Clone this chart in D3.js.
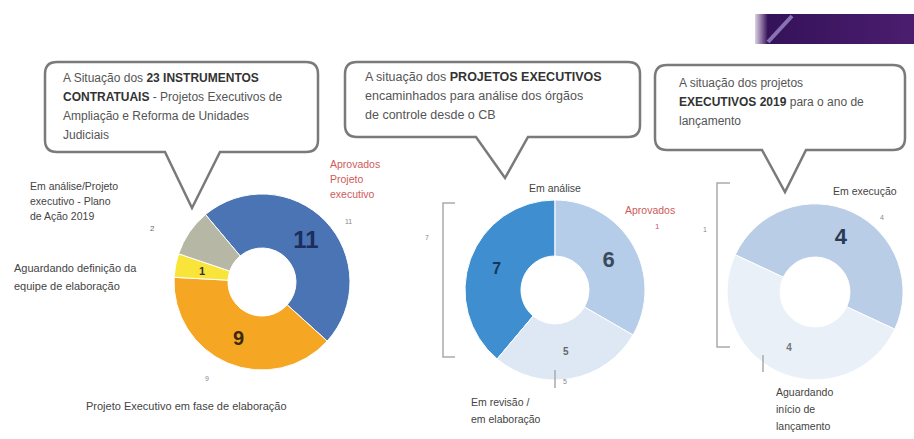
<!DOCTYPE html>
<html>
<head>
<meta charset="utf-8">
<script src="https://cdn.jsdelivr.net/npm/d3@7"></script>
<style>
  html, body { margin: 0; padding: 0; background: #fff; }
  svg { display: block; font-family: "Liberation Sans", Arial, sans-serif; }
</style>
</head>
<body>
<svg id="chart" width="914" height="439"></svg>
<script>
// ---- Data ----
const chart1Categories = ["Projeto executivo aprovado", "Projeto executivo em elaboração", "Aguardando definição", "Em análise / Plano de Ação"];
const chart1Values = [11, 9, 1, 2];
const chart1Colors = ["#4a74b4", "#f5a623", "#f9e43a", "#b7b7a6"];

const chart2Categories = ["Em análise", "Aprovados", "Em revisão / em elaboração"];
const chart2Values = [7, 6, 5];
const chart2Colors = ["#3f8fd0", "#b5cde8", "#dde8f4"];

const chart3Categories = ["Em execução", "Aguardando início de lançamento"];
const chart3Values = [4, 4];
const chart3Colors = ["#b9cde6", "#e9f0f8"];

const svg = d3.select("#chart");
const deg = Math.PI / 180;

// ---- Header band (top right) ----
const band = svg.append("g");
const bandGrad = svg.append("defs").append("linearGradient")
  .attr("id", "bandFade").attr("x1", "0").attr("x2", "1");
bandGrad.append("stop").attr("offset", "0").attr("stop-color", "#4b1d6e").attr("stop-opacity", 0.2);
bandGrad.append("stop").attr("offset", "0.08").attr("stop-color", "#35125a");
bandGrad.append("stop").attr("offset", "1").attr("stop-color", "#4b1d6e");
band.append("rect").attr("x", 755).attr("y", 14).attr("width", 159).attr("height", 30).attr("fill", "url(#bandFade)");
band.append("line").attr("x1", 768).attr("y1", 42).attr("x2", 792).attr("y2", 16)
  .attr("stroke", "#9b8cc8").attr("stroke-width", 4).attr("opacity", 0.8);

// ---- Callout boxes ----
function calloutPath(x, y, w, h, r, b1, b2, tx, ty) {
  const p = d3.path();
  p.moveTo(x + r, y);
  p.lineTo(x + w - r, y);
  p.quadraticCurveTo(x + w, y, x + w, y + r);
  p.lineTo(x + w, y + h - r);
  p.quadraticCurveTo(x + w, y + h, x + w - r, y + h);
  p.lineTo(b2, y + h);
  p.lineTo(tx, ty);
  p.lineTo(b1, y + h);
  p.lineTo(x + r, y + h);
  p.quadraticCurveTo(x, y + h, x, y + h - r);
  p.lineTo(x, y + r);
  p.quadraticCurveTo(x, y, x + r, y);
  p.closePath();
  return p.toString();
}

const boxes = [
  { x: 45, y: 62, w: 273, h: 90, b1: 165, b2: 220, tx: 192, ty: 208, size: 12, tx0: 18,
    lines: [
      [["A Situação dos ", false], ["23 INSTRUMENTOS", true]],
      [["CONTRATUAIS", true], [" - Projetos Executivos de", false]],
      [["Ampliação e Reforma de Unidades", false]],
      [["Judiciais", false]]
    ], ly: 82 },
  { x: 345, y: 62, w: 295, h: 75, b1: 476, b2: 528, tx: 505, ty: 178, size: 12.5, tx0: 20,
    lines: [
      [["A situação dos ", false], ["PROJETOS EXECUTIVOS", true]],
      [["encaminhados para análise dos órgãos", false]],
      [["de controle desde o CB", false]]
    ], ly: 81 },
  { x: 655, y: 65, w: 250, h: 85, b1: 762, b2: 806, tx: 785, ty: 192, size: 12, tx0: 24,
    lines: [
      [["A situação dos projetos", false]],
      [["EXECUTIVOS 2019", true], [" para o ano de", false]],
      [["lançamento", false]]
    ], ly: 87 }
];

boxes.forEach(b => {
  svg.append("path")
    .attr("d", calloutPath(b.x, b.y, b.w, b.h, 12, b.b1, b.b2, b.tx, b.ty))
    .attr("fill", "#fff").attr("stroke", "#7a7a7a").attr("stroke-width", 2.5);
  const t = svg.append("text").attr("font-size", b.size).attr("fill", "#555");
  b.lines.forEach((ln, i) => {
    ln.forEach(([str, bold], j) => {
      const ts = t.append("tspan").text(str)
        .attr("font-weight", bold ? "bold" : null)
        .attr("fill", bold ? "#333" : "#555");
      if (j === 0) ts.attr("x", b.x + b.tx0).attr("y", b.ly + i * 19);
    });
  });
});

// ---- Donuts ----
function donut(cx, cy, rOuter, rInner, values, colors, startDeg) {
  const pie = d3.pie().sort(null)
    .startAngle(startDeg * deg).endAngle(startDeg * deg + 2 * Math.PI);
  const arc = d3.arc().innerRadius(rInner).outerRadius(rOuter);
  const g = svg.append("g").attr("transform", `translate(${cx},${cy})`);
  const arcs = pie(values);
  g.selectAll("path").data(arcs).join("path")
    .attr("d", arc)
    .attr("fill", (d, i) => colors[i])
    .attr("stroke", "#fff").attr("stroke-width", 1);
  return { g, arcs, arc: d3.arc().innerRadius((rInner + rOuter) / 2).outerRadius((rInner + rOuter) / 2) };
}

function valueLabel(d, idx, size, color) {
  const a = d.arcs[idx];
  const [x, y] = d.arc.centroid(a);
  d.g.append("text").attr("x", x).attr("y", y)
    .attr("text-anchor", "middle").attr("dominant-baseline", "central")
    .attr("font-size", size).attr("font-weight", "bold").attr("fill", color)
    .text(a.data);
}

const d1 = donut(262, 282, 88, 34, chart1Values, chart1Colors, -40);
valueLabel(d1, 0, 24, "#1d2d5c");
valueLabel(d1, 1, 20, "#3a2a10");
valueLabel(d1, 2, 11, "#333");

const d2 = donut(555, 290, 90, 34, chart2Values, chart2Colors, -140);
valueLabel(d2, 0, 16, "#17365d");
valueLabel(d2, 1, 22, "#3b4a5c");
valueLabel(d2, 2, 10, "#666");

const d3c = donut(815, 292, 88, 35, chart3Values, chart3Colors, -65);
valueLabel(d3c, 0, 22, "#2a3a55");
valueLabel(d3c, 1, 10, "#777");

// ---- Annotation texts ----
function label(x, y, lines, opts = {}) {
  const t = svg.append("text").attr("font-size", opts.size || 10.5)
    .attr("fill", opts.color || "#444")
    .attr("text-anchor", opts.anchor || "start");
  lines.forEach((s, i) => t.append("tspan").attr("x", x).attr("y", y + i * (opts.lh || 15)).text(s));
}
const red = "#cf5a5a";

// Chart 1
label(30, 190, ["Em análise/Projeto", "executivo - Plano", "de Ação 2019"]);
label(14, 272, ["Aguardando definição da", "equipe de elaboração"], { lh: 18, size: 11 });
label(330, 168, ["Aprovados", "Projeto", "executivo"], { color: red, lh: 15 });
label(86, 410, ["Projeto Executivo em fase de elaboração"], { size: 11 });
label(150, 231, ["2"], { size: 8, color: "#666" });
label(345, 224, ["11"], { size: 7, color: "#888" });
label(205, 381, ["9"], { size: 7, color: "#888" });

// Chart 2
label(555, 192, ["Em análise"], { anchor: "middle" });
label(471, 406, ["Em revisão /", "em elaboração"], { lh: 17 });
label(563, 384, ["5"], { size: 7, color: "#888" });
label(625, 214, ["Aprovados"], { color: red });
label(655, 229, ["1"], { color: red, size: 8 });
label(425, 240, ["7"], { size: 7, color: "#888" });

// Chart 3
label(833, 195, ["Em execução"]);
label(880, 220, ["4"], { size: 7, color: "#888" });
label(703, 232, ["1"], { size: 7, color: "#888" });
label(776, 396, ["Aguardando", "início de", "lançamento"], { lh: 17 });

// Leader brackets
const leaders = svg.append("g").attr("stroke", "#aaa").attr("stroke-width", 1.5).attr("fill", "none");
leaders.append("path").attr("d", "M455,203 H443 V357 H455");
leaders.append("path").attr("d", "M730,183 H717 V347 H730");
leaders.append("path").attr("d", "M555,370 V388");
leaders.append("path").attr("d", "M763,355 V372");
</script>
</body>
</html>
